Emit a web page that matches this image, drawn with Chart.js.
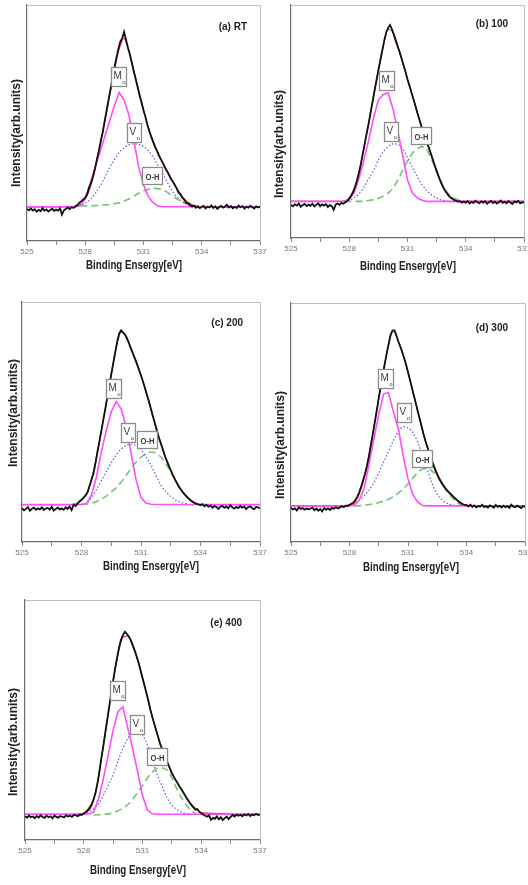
<!DOCTYPE html>
<html>
<head>
<meta charset="utf-8">
<script src="https://cdn.jsdelivr.net/npm/chart.js@4.4.1/dist/chart.umd.min.js"></script>
<style>
  html, body { margin: 0; padding: 0; background: #fff; overflow: hidden; }
  #page { position: relative; width: 528px; height: 885px; overflow: hidden; background: #fff; }
  #page canvas { position: absolute; }
</style>
</head>
<body>
<div id="page"></div>
<script>
// O 1s XPS spectra of the films (RT and annealed at 100-400 °C).
// Raw scans are sampled every 0.1 eV from 525 to 537 eV.
const scanStart = 525, scanStep = 0.1, scanCount = 121;
const scanEnergy = Array.from({ length: scanCount }, (_, i) => +(scanStart + i * scanStep).toFixed(1));

// Energies of the fitted envelope and of the component peaks (eV)
const fitEnergy = [525, 527.5, 527.75, 528, 528.25, 528.5, 528.75, 529, 529.25, 529.5, 529.75,
  530, 530.25, 530.5, 530.75, 531, 531.25, 531.5, 531.75, 532, 532.25, 532.5, 532.75,
  533, 533.25, 533.5, 533.75, 534, 537];

const energyTickLabels = [525, 528, 531, 534, 537];
const panelTitles = ['(a) RT', '(b) 100', '(c) 200', '(d) 300', '(e) 400'];
const componentNames = ['M', 'V', 'O-H'];

// ---- (a) RT ----
const rawRT = [13.6,13.0,13.8,12.9,13.5,12.4,13.2,12.6,13.9,12.8,
  13.4,12.5,13.1,13.7,12.7,13.3,12.9,13.8,11.2,13.0,
  13.6,14.2,13.5,14.4,14.0,14.8,15.2,16.3,16.9,17.6,
  18.4,19.9,22.8,24.6,27.3,30.6,34.6,38.2,42.4,46.1,
  50.8,55.3,59.8,64.2,68.7,73.1,77.5,81.2,84.4,85.8,
  88.6,85.2,81.9,79.0,75.4,71.8,68.5,65.1,61.6,58.7,
  55.4,52.6,49.3,46.5,44.1,41.9,39.8,38.2,36.1,34.5,
  33.0,31.2,29.8,28.2,26.5,25.3,23.9,22.4,20.6,19.8,
  18.3,17.5,16.2,15.9,15.1,14.6,15.0,14.1,14.7,13.9,
  14.5,14.9,13.8,14.6,14.2,15.1,14.0,14.7,13.6,14.4,
  14.9,14.1,14.6,15.3,14.2,14.8,13.9,14.5,14.0,15.0,
  14.3,14.8,13.7,14.6,14.1,14.9,14.4,13.8,14.7,14.2,
  14.6];
const fitRT = [14.5,14.6,15.6,17.8,22.5,30.5,40.0,50.5,61.5,72.5,81.5,85.8,80.5,72.3,64.0,
  55.6,48.2,42.3,37.3,33.1,29.2,25.4,21.9,18.8,16.6,15.3,14.7,14.5,14.5];
const moRT = [14.5,14.5,15.0,18.0,24.2,30.8,37.4,44.1,50.7,57.3,62.9,59.7,53.4,42.8,31.5,
  23.7,18.8,16.2,14.8,14.5,14.5,14.5,14.5,14.5,14.5,14.5,14.5,14.5,14.5];
const voRT = [null,14.5,15.0,16.0,17.5,20.0,23.0,27.0,31.0,34.5,37.5,39.5,40.8,41.2,41.0,
  40.0,38.3,35.5,32.0,28.5,24.5,21.0,18.5,16.8,15.7,15.0,14.6,14.5,null];
const ohRT = [null,null,14.8,14.8,14.9,15.0,15.1,15.3,15.5,15.8,16.2,16.9,17.8,19.0,20.2,
  21.2,21.9,22.3,22.2,21.6,20.5,19.0,17.7,16.5,15.6,15.0,14.7,null,null];

// ---- (b) 100 ----
const raw100 = [14.2,13.6,14.5,13.9,14.8,13.4,14.1,14.6,13.7,14.3,
  13.8,14.7,13.5,14.2,14.9,13.6,14.4,13.9,14.6,13.3,
  14.1,13.7,12.1,14.3,14.8,14.2,15.1,14.7,15.4,15.9,
  17.0,18.2,19.8,22.0,24.8,28.0,31.8,36.2,40.6,45.0,
  49.2,53.8,58.4,63.1,67.6,72.0,76.3,80.4,84.6,88.1,
  90.2,91.4,89.6,87.0,84.5,82.1,79.6,76.8,74.0,71.2,
  68.0,65.4,62.6,59.8,57.0,54.0,51.2,48.4,45.8,43.3,
  41.0,38.8,36.4,33.8,31.2,28.8,26.5,24.3,22.4,20.8,
  19.5,18.4,17.5,16.9,16.3,16.0,15.6,15.8,15.2,15.6,
  15.2,15.9,14.8,15.5,15.1,16.0,15.3,14.9,15.7,15.2,
  15.8,14.7,15.4,15.9,15.0,15.6,14.8,15.3,16.1,15.1,
  15.5,14.9,15.8,15.2,14.6,15.7,15.3,15.9,14.9,15.4,
  15.2];
const fit100 = [15.7,15.7,15.9,17.0,20.9,28.0,38.4,49.2,60.8,71.8,82.2,89.6,88.6,82.4,75.6,
  68.2,61.2,54.0,47.1,41.0,34.8,28.8,23.4,19.6,17.2,16.1,15.7,15.7,15.7];
const mo100 = [15.7,15.7,15.8,16.6,19.5,25.4,33.2,42.0,51.5,59.2,61.6,62.3,55.5,46.0,35.3,
  25.0,19.3,17.2,16.2,15.7,15.7,15.7,15.7,15.7,15.7,15.7,15.7,15.7,15.7];
const vo100 = [null,null,15.7,16.2,17.2,18.9,21.8,25.3,28.8,33.5,37.0,39.2,40.4,40.2,38.3,
  34.5,30.2,26.4,22.8,20.4,18.4,17.1,16.3,15.9,15.6,15.5,15.5,15.6,null];
const oh100 = [null,null,15.7,15.7,15.7,15.7,15.9,16.1,16.5,17.1,17.9,19.3,21.4,24.8,29.0,
  33.0,36.4,38.3,39.2,37.8,33.6,28.5,23.8,20.1,17.8,16.7,16.0,15.7,null];

// ---- (c) 200 ----
const raw200 = [14.1,13.2,13.8,14.5,13.0,13.9,14.3,13.4,14.0,13.6,
  14.4,13.3,13.9,14.2,13.5,14.7,13.1,13.8,14.3,13.6,
  14.0,13.4,14.5,13.8,14.8,13.3,15.6,15.0,16.0,16.9,
  17.6,18.4,19.5,20.6,23.2,25.8,28.4,32.6,37.4,41.8,
  46.3,50.9,55.5,60.3,65.0,69.8,74.4,78.9,83.6,86.9,
  88.2,87.2,86.3,84.5,82.6,80.5,78.4,76.3,74.1,71.8,
  69.4,66.9,64.2,61.3,58.6,55.4,52.4,49.5,46.5,43.5,
  41.1,38.6,36.0,33.8,31.8,29.9,27.9,26.2,24.7,23.1,
  22.0,20.9,19.9,19.0,18.1,17.4,16.8,16.3,15.9,15.7,
  15.3,15.8,14.9,15.5,14.7,15.2,14.3,15.0,14.6,13.8,
  14.7,15.1,14.2,14.8,14.0,15.3,14.5,13.9,14.6,14.1,
  15.0,14.3,14.8,13.7,14.5,14.9,14.2,13.6,14.6,14.4,
  14.1];
const fit200 = [15.6,15.6,16.0,17.5,19.8,25.8,35.2,46.3,58.0,70.0,81.0,87.5,86.0,80.6,75.2,
  69.4,62.6,55.4,47.8,41.1,35.0,30.0,25.6,22.0,19.4,17.4,16.1,15.6,15.6];
const mo200 = [15.6,15.6,15.6,15.6,16.0,19.5,27.0,37.5,46.5,54.3,58.5,55.5,48.0,37.0,26.0,
  18.5,16.2,15.7,15.6,15.6,15.6,15.6,15.6,15.6,15.6,15.6,15.6,15.6,15.6];
const vo200 = [null,null,null,15.6,16.2,18.5,21.8,25.5,29.2,33.0,36.3,38.8,40.2,40.7,40.2,
  38.6,35.5,32.0,27.8,23.8,21.0,19.0,17.4,16.6,16.0,15.6,15.6,null,null];
const oh200 = [null,null,null,15.6,15.8,16.1,16.9,17.8,19.1,20.8,22.6,25.0,27.8,30.6,33.3,
  35.3,36.8,37.5,37.0,35.5,32.6,29.3,25.6,22.0,19.0,17.2,16.2,15.7,null];

// ---- (d) 300 ----
const raw300 = [14.3,13.6,14.1,13.2,14.5,13.8,14.2,13.5,14.0,13.7,
  13.9,14.4,13.3,14.0,13.1,13.8,12.8,14.2,13.5,14.1,
  13.4,14.3,13.9,14.6,14.0,14.4,15.0,14.6,15.2,15.0,
  15.6,16.0,16.5,17.6,19.0,20.8,23.2,25.9,28.7,32.0,
  36.1,40.8,45.4,50.3,55.1,60.2,65.0,69.6,74.2,78.5,
  82.6,86.5,88.4,88.6,86.6,84.0,81.9,79.6,77.0,74.3,
  71.1,67.9,64.6,61.3,58.1,54.7,51.6,48.3,45.1,42.2,
  39.5,36.8,34.4,32.3,30.1,28.2,26.5,25.0,23.7,22.6,
  21.7,20.7,20.0,19.2,18.4,17.7,16.9,16.4,15.9,15.5,
  15.4,14.9,15.6,14.7,15.3,14.5,15.1,14.8,15.6,14.6,
  15.0,14.4,15.3,14.9,14.3,15.5,14.7,15.1,14.4,15.2,
  14.6,15.0,14.3,15.6,14.8,14.5,15.2,14.7,14.2,15.0,
  14.7];
const fit300 = [15.1,15.1,15.2,15.6,16.4,20.2,26.8,36.1,47.9,60.2,71.9,82.6,88.5,84.0,78.3,
  71.0,62.8,54.6,46.3,39.4,33.8,28.6,24.8,21.8,19.5,17.5,15.8,15.3,15.1];
const mo300 = [15.1,15.1,15.1,15.1,15.4,17.5,22.5,32.5,43.0,53.5,62.0,62.5,54.5,47.5,36.2,
  26.5,19.8,16.7,15.3,15.1,15.1,15.1,15.1,15.1,15.1,15.1,15.1,15.1,15.1];
const vo300 = [null,null,null,15.3,16.0,17.5,19.3,21.6,24.8,29.0,33.5,38.0,42.5,46.0,48.2,
  47.8,45.8,41.8,36.0,30.0,24.2,20.0,17.6,16.2,15.5,15.2,null,null,null];
const oh300 = [null,null,null,null,15.1,15.2,15.4,15.7,16.0,16.5,17.1,17.9,19.0,20.4,22.2,
  24.3,26.8,29.0,30.5,30.7,29.6,27.4,24.3,21.0,18.6,16.6,15.5,15.1,null];

// ---- (e) 400 ----
const raw400 = [9.9,9.3,10.2,9.5,9.8,9.1,10.0,9.4,10.3,9.6,
  9.2,10.1,9.5,9.9,9.0,10.2,9.6,9.3,10.0,9.7,
  9.4,10.3,9.8,10.1,9.6,10.5,10.2,9.9,10.6,10.4,
  11.1,11.6,12.3,13.0,14.6,16.8,19.6,23.5,28.6,34.2,
  39.2,44.8,50.1,55.6,61.0,66.3,71.4,75.8,80.1,83.4,
  85.4,86.8,85.9,84.8,83.3,81.2,79.0,76.6,73.9,70.7,
  67.6,64.5,61.3,58.0,54.4,51.3,48.4,45.6,42.8,40.0,
  37.9,35.8,33.8,31.8,29.8,27.8,26.3,24.9,23.6,22.2,
  20.9,19.6,18.2,16.9,15.6,14.5,13.6,12.6,12.9,11.8,
  11.2,10.6,10.1,9.7,10.3,8.4,9.2,8.8,9.9,8.6,
  9.5,8.3,9.1,9.8,8.7,9.6,10.4,9.8,10.6,10.1,
  10.5,9.9,10.7,10.2,10.8,10.0,10.6,10.3,10.9,10.4,
  10.6];
const fit400 = [10.7,10.7,10.9,11.1,13.3,17.0,26.0,39.0,52.5,66.0,77.5,84.5,85.0,80.8,75.0,
  67.3,59.4,51.3,44.3,38.0,32.8,27.9,24.2,20.9,17.6,14.8,12.8,11.3,10.7];
const mo400 = [10.7,10.7,10.7,10.7,10.8,11.5,17.0,25.5,35.5,45.8,53.5,55.5,46.5,38.0,28.5,
  18.5,12.5,10.9,10.7,10.7,10.7,10.7,10.7,10.7,10.7,10.7,10.7,10.7,10.7];
const vo400 = [null,null,null,10.7,11.6,13.0,15.0,18.5,22.8,27.2,33.0,38.2,42.3,45.2,46.4,
  43.9,39.5,33.5,27.2,22.5,17.6,14.6,12.8,11.6,11.0,10.7,null,null,null];
const oh400 = [null,null,null,null,null,10.4,10.5,10.7,10.9,11.4,12.2,13.2,14.8,17.0,19.8,
  22.7,25.8,28.3,29.8,30.0,29.2,25.8,21.3,17.4,14.5,12.2,10.8,null,null];

// ---- layout of the five panels (page pixels) ----
const PAGE_W = 528;
const AXIS_W = 20, AXIS_H = 42, PAD_T = 5;
const NARROW = "'Liberation Sans Narrow', 'Arial Narrow', 'Liberation Sans', Arial, sans-serif";
const SANS = "'Liberation Sans', Arial, sans-serif";

const panels = [
  { title: panelTitles[0], raw: rawRT, fit: fitRT, mo: moRT, vo: voRT, oh: ohRT,
    area: [27, 5, 260, 241], yTitle: [17, 133], xTitle: [134, 266], tag: [13, 22],
    labels: { mo: [529.70, 69.5], vo: [530.53, 45.9], oh: [531.42, 27.8] } },
  { title: panelTitles[1], raw: raw100, fit: fit100, mo: mo100, vo: vo100, oh: oh100,
    area: [291, 5, 524, 238], yTitle: [280, 144], xTitle: [408, 267], tag: [16, 19],
    labels: { mo: [529.93, 67.5], vo: [530.15, 45.6], oh: [531.70, 43.8] } },
  { title: panelTitles[2], raw: raw200, fit: fit200, mo: mo200, vo: vo200, oh: oh200,
    area: [22, 302, 260, 542], yTitle: [14, 413], xTitle: [151, 567], tag: [17, 21],
    labels: { mo: [529.63, 63.9], vo: [530.32, 45.8], oh: [531.31, 42.8] } },
  { title: panelTitles[3], raw: raw300, fit: fit300, mo: mo300, vo: vo300, oh: oh300,
    area: [291, 303, 525, 542], yTitle: [281, 445], xTitle: [411, 568], tag: [17, 25],
    labels: { mo: [529.85, 68.4], vo: [530.77, 54.0], oh: [531.71, 35.1] } },
  { title: panelTitles[4], raw: raw400, fit: fit400, mo: mo400, vo: vo400, oh: oh400,
    area: [25, 600, 260, 840], yTitle: [14, 742], xTitle: [138, 871], tag: [18, 23],
    labels: { mo: [529.70, 62.5], vo: [530.70, 48.2], oh: [531.72, 34.7] } }
];

const toPoints = (xs, ys) => xs.map((x, i) => ({ x, y: ys[i] }));

// text squeezed horizontally to a given width (condensed bold look)
function fillCondensed(ctx, text, x, y, width) {
  const w = ctx.measureText(text).width;
  const k = Math.min(1, width / w);
  ctx.save();
  ctx.translate(x, y);
  ctx.scale(k, 1);
  ctx.textAlign = 'center';
  ctx.textBaseline = 'middle';
  ctx.fillText(text, 0, 0);
  ctx.restore();
}

// boxed peak label, optionally with a subscript "o"
function drawTag(ctx, cx, cy, main, sub) {
  ctx.save();
  ctx.font = sub ? '10px ' + SANS : 'bold 9px ' + SANS;
  const mw = ctx.measureText(main).width * (sub ? 1 : 0.85);
  const w = sub ? Math.round(mw + 7) : Math.round(mw + 6);
  const h = sub ? 19 : 17;
  const x = Math.round(cx - w / 2) + 0.5, y = Math.round(cy - h / 2) + 0.5;
  ctx.fillStyle = '#ffffff';
  ctx.fillRect(x, y, w, h);
  ctx.strokeStyle = '#8c8c8c';
  ctx.lineWidth = 1.3;
  ctx.strokeRect(x, y, w, h);
  ctx.fillStyle = '#3c3c3c';
  ctx.textAlign = 'left';
  ctx.textBaseline = 'alphabetic';
  if (sub) {
    ctx.fillText(main, x + 2, y + 11);
    ctx.font = '6px ' + SANS;
    ctx.fillText(sub, x + 2.5 + mw, y + 16);
  } else {
    ctx.save();
    ctx.translate(x + 3, y + 12);
    ctx.scale(0.85, 1);
    ctx.fillText(main, 0, 0);
    ctx.restore();
  }
  ctx.restore();
}

function decorPlugin(p, ox, oy) {
  return {
    id: 'panelDecor',
    beforeDatasetsDraw(chart) {
      // light frame on the top and right of the plot area
      const { ctx, chartArea: a } = chart;
      ctx.save();
      ctx.strokeStyle = '#bdbdbd';
      ctx.lineWidth = 1;
      ctx.beginPath();
      ctx.moveTo(a.left, Math.round(a.top) + 0.5);
      ctx.lineTo(Math.round(a.right) + 0.5, Math.round(a.top) + 0.5);
      ctx.lineTo(Math.round(a.right) + 0.5, a.bottom);
      ctx.stroke();
      ctx.restore();
    },
    afterDraw(chart) {
      const { ctx, chartArea: a, scales } = chart;
      const sx = scales.x, sy = scales.y;
      // component labels
      const L = p.labels;
      drawTag(ctx, sx.getPixelForValue(L.mo[0]), sy.getPixelForValue(L.mo[1]), componentNames[0], 'o');
      drawTag(ctx, sx.getPixelForValue(L.vo[0]), sy.getPixelForValue(L.vo[1]), componentNames[1], 'o');
      drawTag(ctx, sx.getPixelForValue(L.oh[0]), sy.getPixelForValue(L.oh[1]), componentNames[2], null);
      ctx.save();
      // sample tag
      ctx.fillStyle = '#1e1e1e';
      ctx.font = 'bold 10px ' + SANS;
      ctx.textAlign = 'right';
      ctx.textBaseline = 'middle';
      ctx.fillText(p.title, a.right - p.tag[0], a.top + p.tag[1]);
      // axis titles
      ctx.font = 'bold 12px ' + SANS;
      ctx.fillStyle = '#222';
      fillCondensed(ctx, 'Binding Ensergy[eV]', p.xTitle[0] - ox, p.xTitle[1] - oy, 96);
      ctx.translate(p.yTitle[0] - ox, p.yTitle[1] - oy);
      ctx.rotate(-Math.PI / 2);
      fillCondensed(ctx, 'Intensity(arb.units)', 0, 0, 113);
      ctx.restore();
    }
  };
}

const page = document.getElementById('page');

panels.forEach(p => {
  const [L, T, R, B] = p.area;
  const padR = Math.min(9, PAGE_W - R);
  const w = R - L + AXIS_W + padR;
  const h = B - T + PAD_T + AXIS_H;
  const ox = L - AXIS_W, oy = T - PAD_T;
  const canvas = document.createElement('canvas');
  canvas.width = w; canvas.height = h;
  canvas.style.left = ox + 'px';
  canvas.style.top = oy + 'px';
  canvas.style.width = w + 'px';
  canvas.style.height = h + 'px';
  page.appendChild(canvas);

  new Chart(canvas, {
    type: 'line',
    data: {
      datasets: [
        { label: 'measured', data: toPoints(scanEnergy, p.raw), borderColor: '#111111',
          borderWidth: 1.8, pointRadius: 0, tension: 0 },
        { label: 'Mo', data: toPoints(fitEnergy, p.mo), borderColor: '#ff4cff',
          borderWidth: 1.6, pointRadius: 0, tension: 0 },
        { label: 'fit', data: toPoints(fitEnergy, p.fit), borderColor: '#e2262b',
          borderWidth: 1.2, pointRadius: 0, cubicInterpolationMode: 'monotone' },
        { label: 'Vo', data: toPoints(fitEnergy, p.vo), borderColor: '#5a5ae8',
          borderWidth: 1.2, borderDash: [1.5, 2], pointRadius: 0,
          cubicInterpolationMode: 'monotone', spanGaps: false },
        { label: 'O-H', data: toPoints(fitEnergy, p.oh), borderColor: '#74c474',
          borderWidth: 1.6, borderDash: [7, 4], pointRadius: 0,
          cubicInterpolationMode: 'monotone', spanGaps: false }
      ]
    },
    options: {
      responsive: false,
      animation: false,
      devicePixelRatio: 1,
      layout: { padding: { left: 0, top: PAD_T, right: padR, bottom: 0 } },
      plugins: { legend: { display: false }, tooltip: { enabled: false } },
      scales: {
        x: {
          type: 'linear', position: 'bottom', min: 525, max: 537,
          afterFit: s => { s.height = AXIS_H; s.paddingLeft = 0; s.paddingRight = 0; },
          grid: { display: true, drawOnChartArea: false, drawTicks: true, tickLength: 4,
                  color: '#8a8a8a', lineWidth: 1 },
          border: { display: true, color: '#6e6e6e', width: 1.2 },
          ticks: {
            stepSize: 1.5, autoSkip: false, maxRotation: 0, minRotation: 0, padding: 2,
            color: '#7a7a7a', font: { size: 8, family: NARROW },
            callback: v => energyTickLabels.includes(v) ? String(v) : ''
          }
        },
        y: {
          type: 'linear', min: 0, max: 100,
          afterFit: s => { s.width = AXIS_W; s.paddingTop = 0; s.paddingBottom = 0; },
          grid: { display: false },
          border: { display: true, color: '#6e6e6e', width: 1.2 },
          ticks: { display: false }
        }
      }
    },
    plugins: [decorPlugin(p, ox, oy)]
  });
});
</script>
</body>
</html>
